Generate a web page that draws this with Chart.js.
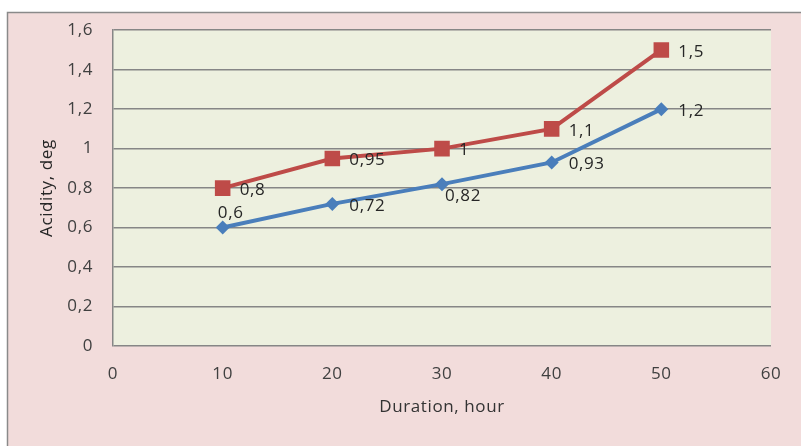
<!DOCTYPE html>
<html>
<head>
<meta charset="utf-8">
<script src="https://cdn.jsdelivr.net/npm/chart.js@4/dist/chart.umd.min.js"></script>
<style>
html,body{margin:0;padding:0;background:#fff;}
#wrap{width:801px;height:446px;position:relative;}
</style>
</head>
<body>
<div id="wrap"><canvas id="c" width="801" height="446"></canvas></div>
<script>
// ---- data ----
const durations = [10, 20, 30, 40, 50];
const seriesBlue = [0.6, 0.72, 0.82, 0.93, 1.2];
const seriesRed = [0.8, 0.95, 1, 1.1, 1.5];
const xTicks = [0, 10, 20, 30, 40, 50, 60];
const yTicks = [0, 0.2, 0.4, 0.6, 0.8, 1, 1.2, 1.4, 1.6];
const xTitle = 'Duration, hour';
const yTitle = 'Acidity, deg';

// label placements (style)
const placeBlue = ['above', 'right', 'belowRight', 'right', 'right'];
const placeRed = ['right', 'right', 'right', 'right', 'right'];

const fmt = v => String(+Number(v).toFixed(2)).replace('.', ',');
const FONT = '"Open Sans"';
const FS = 17;
const LS = '0.6px';

const spacingPlugin = {
  id: 'spacing',
  beforeLayout(chart) { chart.ctx.letterSpacing = LS; },
  beforeDraw(chart) { chart.ctx.letterSpacing = LS; }
};

const bgPlugin = {
  id: 'bg',
  beforeDraw(chart) {
    const ctx = chart.ctx;
    ctx.save();
    ctx.fillStyle = '#ffffff';
    ctx.fillRect(0, 0, chart.width, chart.height);
    ctx.fillStyle = '#f2dcdb';
    ctx.fillRect(7, 12, chart.width - 7, chart.height - 12);
    ctx.strokeStyle = '#8a8a8a';
    ctx.lineWidth = 1.5;
    ctx.beginPath();
    ctx.moveTo(7.5, chart.height);
    ctx.lineTo(7.5, 12.5);
    ctx.lineTo(chart.width, 12.5);
    ctx.stroke();
    const a = chart.chartArea;
    ctx.fillStyle = '#edf0df';
    ctx.fillRect(a.left, a.top, a.right - a.left, a.bottom - a.top);
    ctx.restore();
  }
};

const labelPlugin = {
  id: 'vlabels',
  afterDatasetsDraw(chart) {
    const ctx = chart.ctx;
    ctx.save();
    ctx.letterSpacing = LS;
    ctx.font = FS + 'px ' + FONT;
    ctx.fillStyle = '#262626';
    chart.data.datasets.forEach((ds, di) => {
      const meta = chart.getDatasetMeta(di);
      meta.data.forEach((pt, i) => {
        const p = ds.placements[i];
        const t = fmt(ds.data[i].y);
        let x = pt.x, y = pt.y;
        ctx.textBaseline = 'middle';
        if (p === 'right') { ctx.textAlign = 'left'; x += 17; y += 2; }
        else if (p === 'above') { ctx.textAlign = 'center'; x += 8; y -= 14; }
        else if (p === 'belowRight') { ctx.textAlign = 'left'; x += 3; y += 12; }
        ctx.fillText(t, x, y);
      });
    });
    ctx.restore();
  }
};

const toPts = arr => durations.map((d, i) => ({x: d, y: arr[i]}));

new Chart(document.getElementById('c'), {
  type: 'scatter',
  data: {
    datasets: [
      {
        data: toPts(seriesRed),
        placements: placeRed,
        showLine: true,
        borderColor: '#be4b48',
        backgroundColor: '#be4b48',
        borderWidth: 4,
        pointStyle: 'rect',
        pointRadius: 11,
        pointBorderWidth: 0,
        pointHoverRadius: 11
      },
      {
        data: toPts(seriesBlue),
        placements: placeBlue,
        showLine: true,
        borderColor: '#4a7ebb',
        backgroundColor: '#4a7ebb',
        borderWidth: 4,
        pointStyle: 'rectRot',
        pointRadius: 7,
        pointBorderWidth: 0,
        pointHoverRadius: 7
      }
    ]
  },
  options: {
    responsive: false,
    animation: false,
    devicePixelRatio: 1,
    layout: {padding: {left: 0, top: 28, right: 30, bottom: 0}},
    plugins: {legend: {display: false}, tooltip: {enabled: false}},
    scales: {
      x: {
        type: 'linear',
        min: 0, max: 60,
        afterBuildTicks: s => { s.ticks = xTicks.map(v => ({value: v})); },
        afterFit: s => { s.height = 100; },
        grid: {display: false, drawTicks: false},
        border: {display: false},
        ticks: {
          padding: 18,
          color: '#404040',
          font: {family: FONT, size: FS},
          callback: v => fmt(v)
        },
        title: {
          display: true, text: xTitle, color: '#333333',
          font: {family: FONT, size: FS},
          padding: {top: 0, bottom: 29}
        }
      },
      y: {
        min: 0, max: 1.6,
        afterBuildTicks: s => { s.ticks = yTicks.map(v => ({value: v})); },
        afterFit: s => { s.width = 113; },
        grid: {color: '#868686', lineWidth: 1.5, drawTicks: false},
        border: {display: true, color: '#868686', width: 1.5},
        ticks: {
          padding: 20,
          color: '#404040',
          font: {family: FONT, size: FS},
          callback: v => fmt(v)
        },
        title: {
          display: true, text: yTitle, color: '#262626',
          font: {family: FONT, size: FS},
          padding: {top: 37, bottom: 0}
        }
      }
    }
  },
  plugins: [spacingPlugin, bgPlugin, labelPlugin]
});
</script>
</body>
</html>
